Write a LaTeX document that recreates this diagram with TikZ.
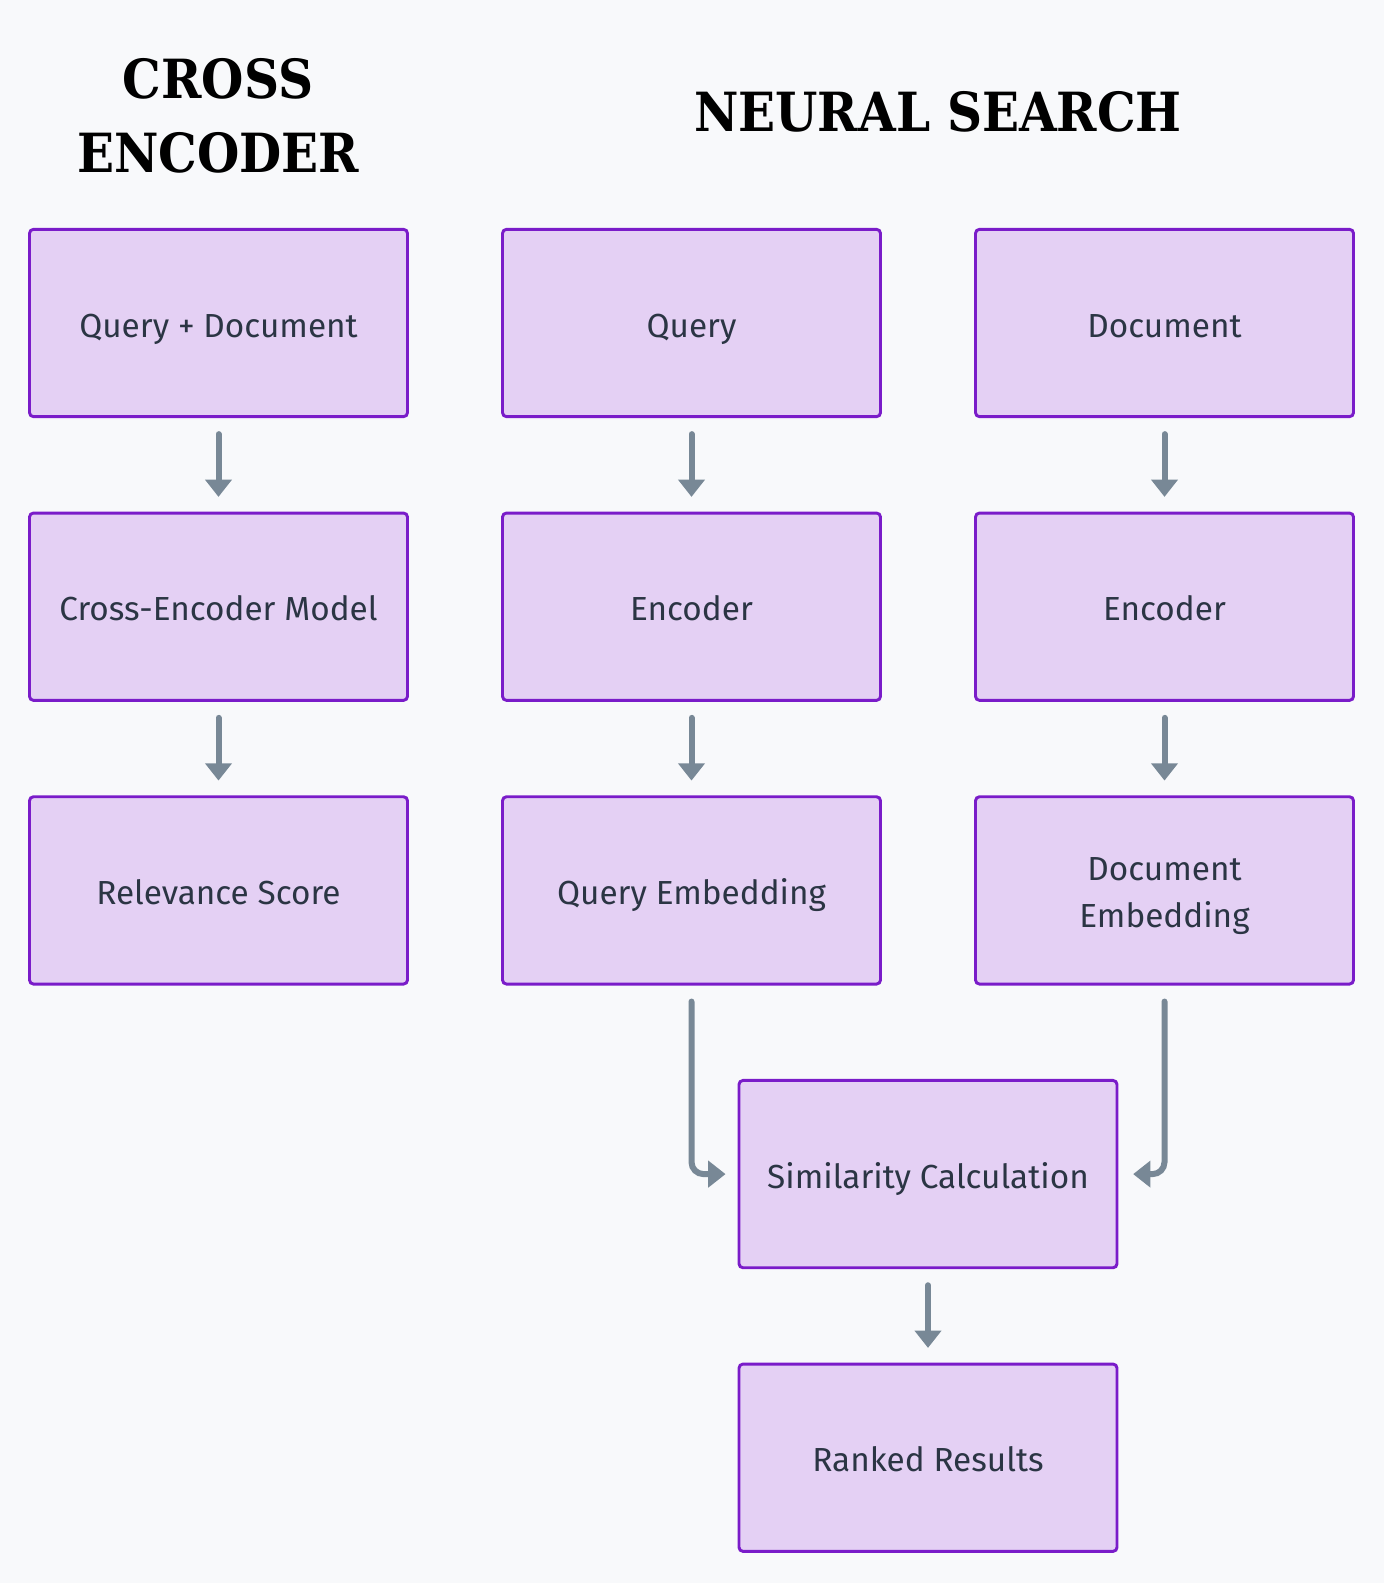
\documentclass[tikz,border=0pt]{standalone}
\usepackage{fontspec}
\setmainfont{Fira Sans}
\newfontfamily\titlefont{DejaVu Serif Condensed}
\usetikzlibrary{arrows.meta}
\definecolor{bgc}{HTML}{F8F9FB}
\definecolor{boxfill}{HTML}{E4D0F4}
\definecolor{boxdraw}{HTML}{7A1CC9}
\definecolor{txt}{HTML}{2B3544}
\definecolor{arrc}{HTML}{788896}
\tikzset{
  box/.style={draw=boxdraw, fill=boxfill, line width=2.2pt, rounded corners=3pt,
    minimum width=283.5pt, minimum height=140.5pt, align=center, text=txt,
    font=\fontsize{25pt}{35.5pt}\selectfont, inner sep=0pt,
    text height=21pt, text depth=0pt},
  arr/.style={draw=arrc, line width=4.5pt, line cap=round,
    -{Triangle[width=19.5pt,length=13pt]}},
  ttl/.style={font=\titlefont\bfseries\fontsize{40.5pt}{55pt}\selectfont, align=center, text=black}
}
\begin{document}
\begin{tikzpicture}[x=0.75pt,y=-0.75pt]
\fill[bgc] (0,0) rectangle (1384,1583);
\useasboundingbox (0,0) rectangle (1384,1583);
\node[ttl] (t1) at (218,116) {CROSS\\ENCODER};
\node[ttl] (t2) at (938,112) {NEURAL SEARCH};
\node[box] (qd) at (218.5,323) {Query + Document};
\node[box] (cem) at (218.5,606.7) {Cross-Encoder Model};
\node[box] (rs) at (218.5,890.4) {Relevance Score};
\node[box] (q) at (691.5,323) {Query};
\node[box] (qenc) at (691.5,606.7) {Encoder};
\node[box] (qe) at (691.5,890.4) {Query Embedding};
\node[box] (d) at (1164.5,323) {Document};
\node[box] (denc) at (1164.5,606.7) {Encoder};
\node[box, text height=, text depth=] (de) at (1164.5,890.4) {\rule{0pt}{26pt}Document\\Embedding\rule[-3pt]{0pt}{0pt}};
\node[box] (sim) at (928,1174.1) {Similarity Calculation};
\node[box] (rr) at (928,1457.7) {Ranked Results};
\foreach \a/\b in {qd/cem,cem/rs,q/qenc,qenc/qe,d/denc,denc/de,sim/rr}
  \draw[arr] ([yshift=-12pt]\a.south) -- ([yshift=11pt]\b.north);
\draw[arr, rounded corners=9pt] ([yshift=-12pt]qe.south) |- ([xshift=-9pt]sim.west);
\draw[arr, rounded corners=9pt] ([yshift=-12pt]de.south) |- ([xshift=11pt]sim.east);
\end{tikzpicture}
\end{document}
